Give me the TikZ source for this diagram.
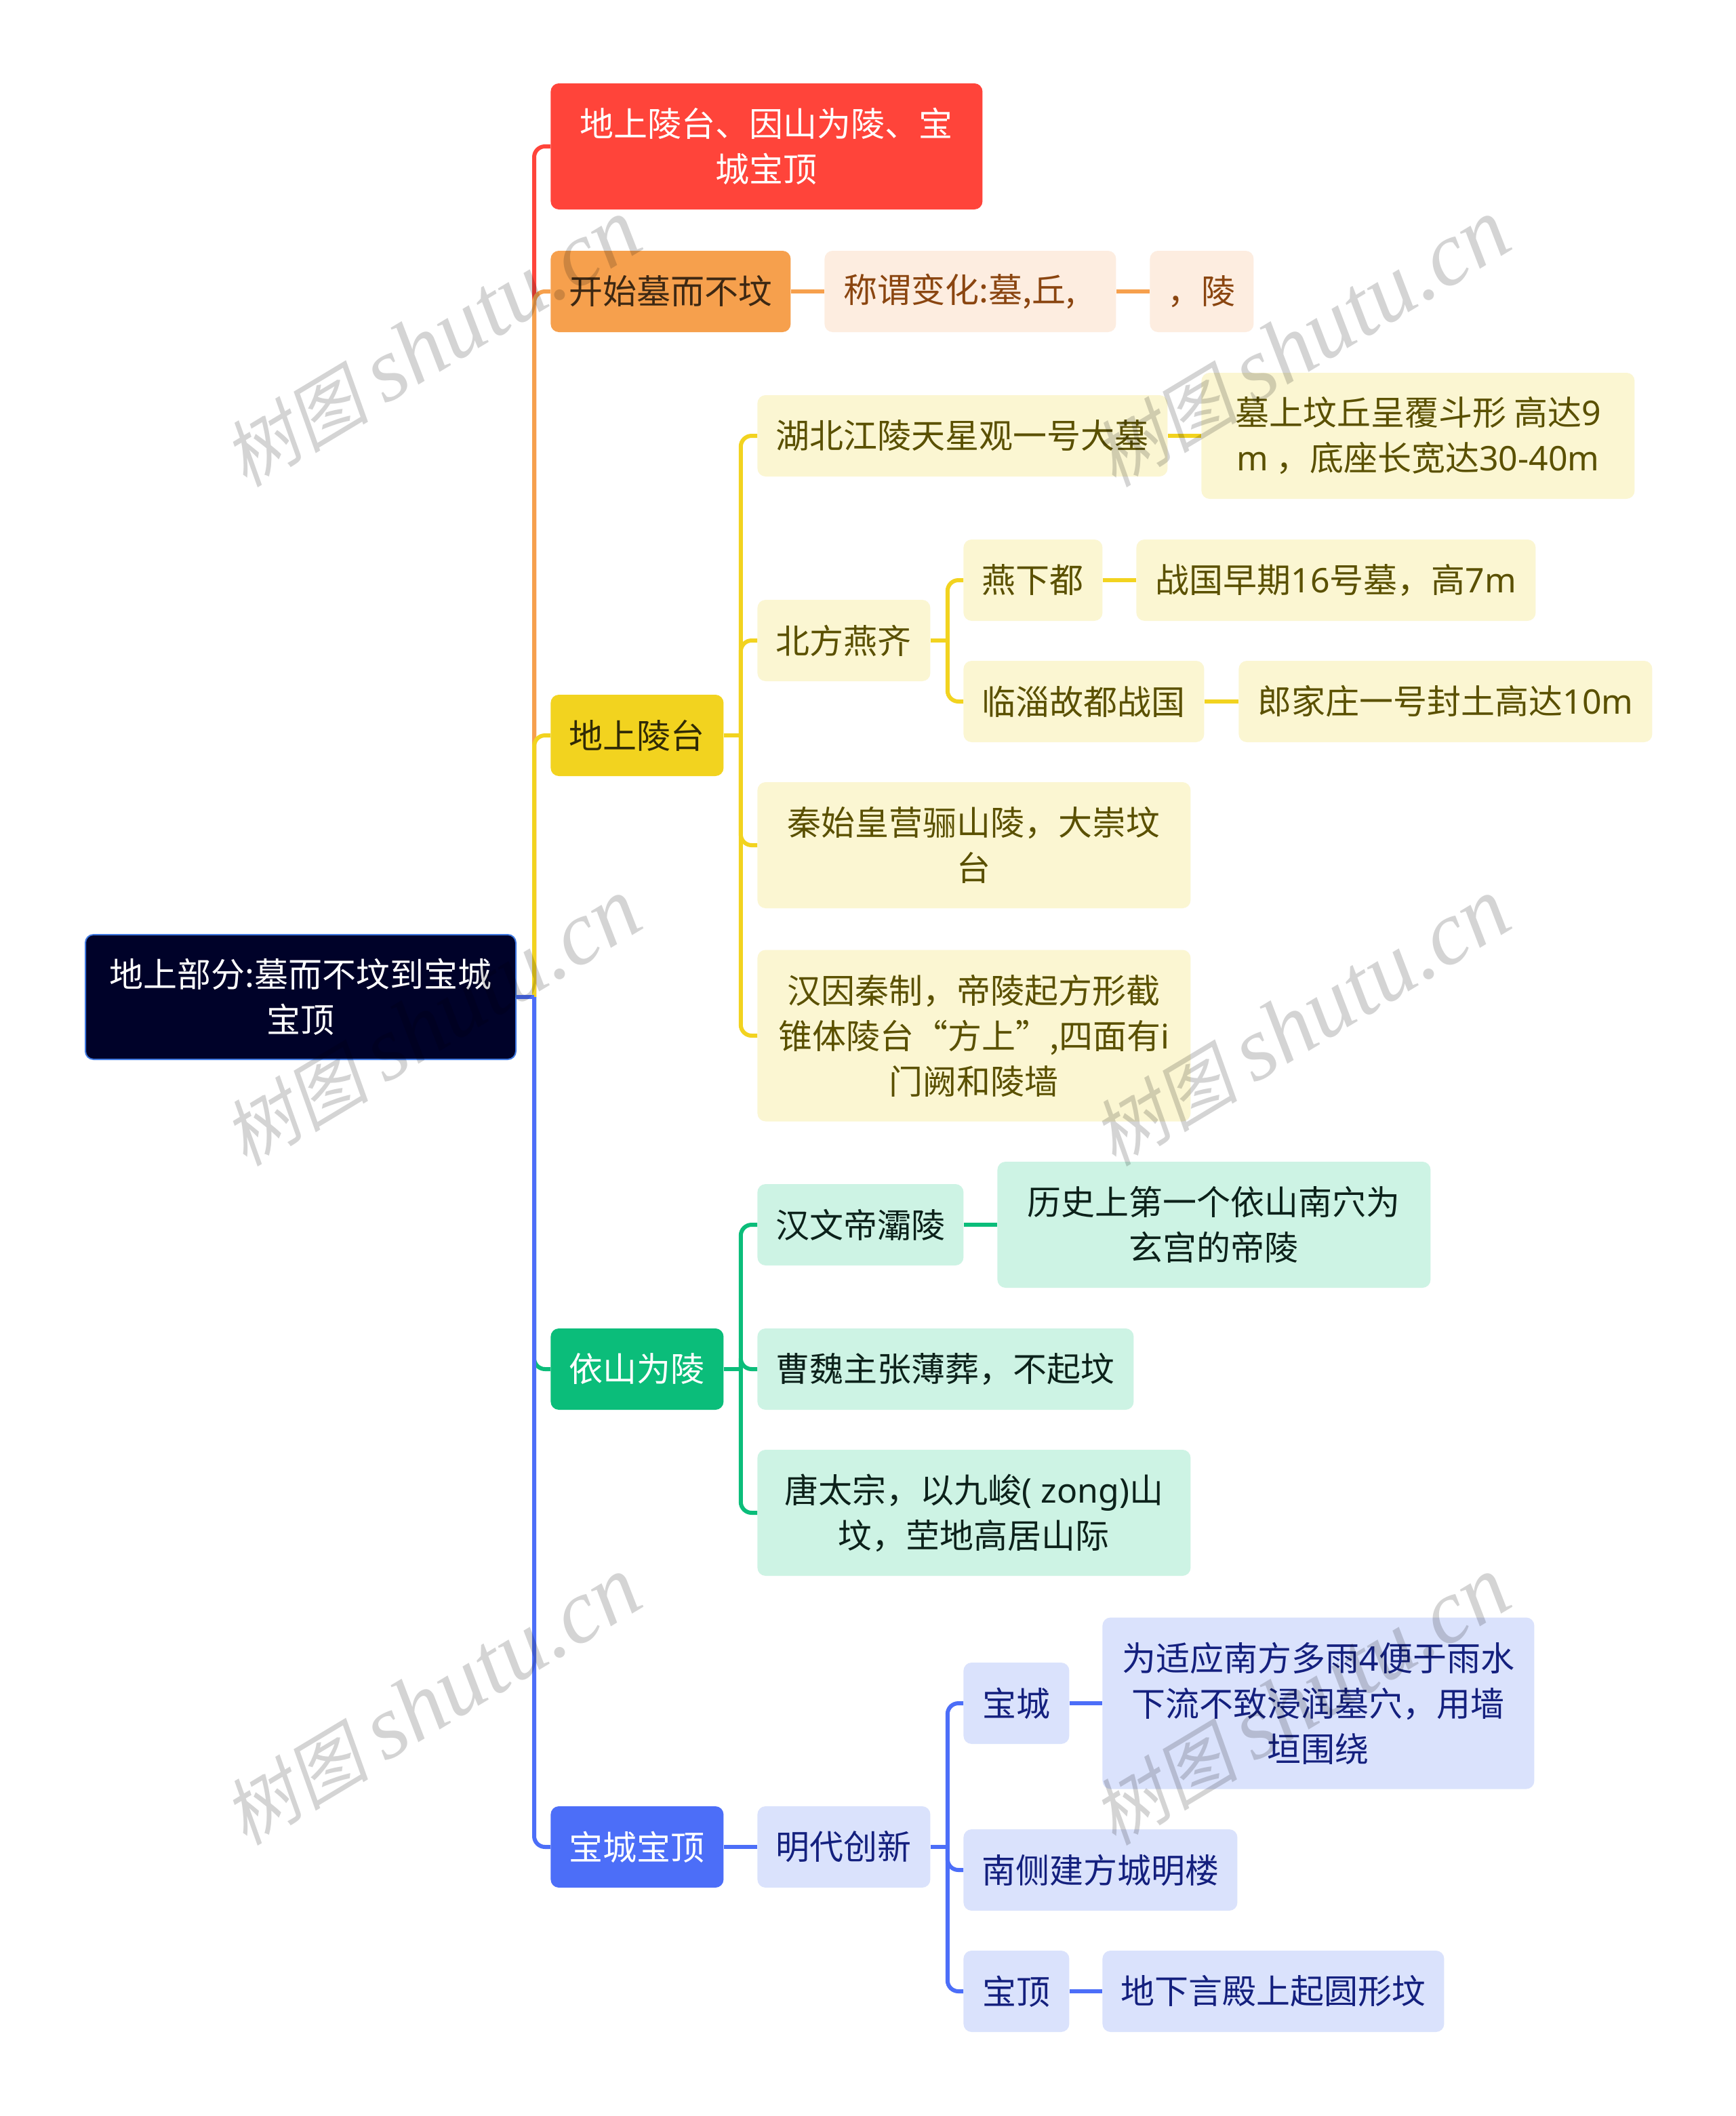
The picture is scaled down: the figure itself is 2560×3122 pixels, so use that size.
\documentclass[tikz,border=0pt]{standalone}
\usepackage{fontspec}
\setmainfont{Noto Sans CJK SC}
\newfontfamily\lat{Noto Sans}
\newfontfamily\wmcjk[FakeSlant=0.2]{Noto Sans CJK SC}
\newfontfamily\wmlatin{Liberation Serif}
\usetikzlibrary{calc}
\definecolor{rootbg}{HTML}{000229}
\definecolor{rootline}{HTML}{3F78E0}
\definecolor{redmain}{HTML}{FF443A}
\definecolor{orangemain}{HTML}{F6A04D}
\definecolor{yellowmain}{HTML}{F2D31F}
\definecolor{greenmain}{HTML}{0BBD7A}
\definecolor{bluemain}{HTML}{4C6EF8}
\definecolor{orangesoft}{HTML}{FDEDE0}
\definecolor{yellowsoft}{HTML}{FBF6D2}
\definecolor{greensoft}{HTML}{CDF3E4}
\definecolor{bluesoft}{HTML}{DAE2FC}
\definecolor{orangeink}{HTML}{8A4510}
\definecolor{yellowink}{HTML}{5A5000}
\definecolor{greenink}{HTML}{0C211A}
\definecolor{blueink}{HTML}{14207E}
\tikzset{
	box/.style={anchor=west,rounded corners=6pt,inner sep=0pt,align=center,
		font=\fontsize{25}{33.5}\selectfont},
	w/.style={minimum width=#1*0.5pt},
	h/.style={minimum height=#1*0.5pt},
	rootbox/.style={box,fill=rootbg,draw=rootline,line width=1pt,text=white},
	redbox/.style={box,fill=redmain,text=white},
	orangebox/.style={box,fill=orangemain,text=black!75!orangemain},
	yellowbox/.style={box,fill=yellowmain,text=black!80!yellowmain},
	greenbox/.style={box,fill=greenmain,text=white},
	bluebox/.style={box,fill=bluemain,text=white},
	orangeleaf/.style={box,fill=orangesoft,text=orangeink},
	yellowleaf/.style={box,fill=yellowsoft,text=yellowink},
	greenleaf/.style={box,fill=greensoft,text=greenink},
	blueleaf/.style={box,fill=bluesoft,text=blueink},
	link/.style={line width=3pt,draw=#1},
	bend/.style={link=#1,rounded corners=8pt},
	mark text/.style={rotate=31,text=black,opacity=0.17}
}
\begin{document}
\begin{tikzpicture}[x=0.5pt,y=-0.5pt]
	\useasboundingbox (0,0) rectangle (2560,3122);
	\fill[white] (0,0) rectangle (2560,3122);

	\node[rootbox,w=635,h=184] (root) at (125,1471) {地上部分:墓而不坟到宝城\\宝顶};

	\node[redbox,w=637,h=186] (red) at (812,216) {地上陵台、因山为陵、宝\\城宝顶};

	\node[orangebox,w=354,h=120] (orange) at (812,430) {开始墓而不坟};
	\node[orangeleaf,w=430,h=120] (name) at (1216,430) {称谓变化:墓,丘,\hspace*{16pt}};
	\node[orangeleaf,w=153,h=120] (ling) at (1696,430) {，陵};

	\node[yellowbox,w=255,h=120] (yellow) at (812,1085) {地上陵台};
	\node[yellowleaf,w=605,h=120] (hubei) at (1117,643) {湖北江陵天星观一号大墓};
	\node[yellowleaf,w=639,h=186] (mound) at (1772,643) {墓上坟丘呈覆斗形 高达{\lat 9}\\{\lat m} ，底座长宽达{\lat 30-40m}};
	\node[yellowleaf,w=255,h=120] (north) at (1117,945) {北方燕齐};
	\node[yellowleaf,w=205,h=120] (yan) at (1421,856) {燕下都};
	\node[yellowleaf,w=589,h=120] (tomb) at (1676,856) {战国早期{\lat 16}号墓，高{\lat 7m}};
	\node[yellowleaf,w=355,h=120] (linzi) at (1421,1035) {临淄故都战国};
	\node[yellowleaf,w=610,h=120] (lang) at (1827,1035) {郎家庄一号封土高达{\lat 10m}};
	\node[yellowleaf,w=639,h=186] (qin) at (1117,1247) {秦始皇营骊山陵，大崇坟\\台};
	\node[yellowleaf,w=639,h=253] (han) at (1117,1528) {汉因秦制，帝陵起方形截\\锥体陵台“方上”,四面有{\lat i}\\门阙和陵墙};

	\node[greenbox,w=255,h=120] (green) at (812,2020) {依山为陵};
	\node[greenleaf,w=304,h=120] (baling) at (1117,1807) {汉文帝灞陵};
	\node[greenleaf,w=639,h=186] (first) at (1471,1807) {历史上第一个依山南穴为\\玄宫的帝陵};
	\node[greenleaf,w=555,h=120] (cao) at (1117,2020) {曹魏主张薄葬，不起坟};
	\node[greenleaf,w=639,h=186] (tang) at (1117,2232) {唐太宗，以九峻{\lat ( zong)}山\\坟，茔地高居山际};

	\node[bluebox,w=255,h=120] (blue) at (812,2725) {宝城宝顶};
	\node[blueleaf,w=255,h=120] (ming) at (1117,2725) {明代创新};
	\node[blueleaf,w=156,h=120] (bao) at (1421,2513) {宝城};
	\node[blueleaf,w=637,h=253] (rain) at (1626,2513) {为适应南方多雨{\lat 4}便于雨水\\下流不致浸润墓穴，用墙\\垣围绕};
	\node[blueleaf,w=404,h=120] (south) at (1421,2759) {南侧建方城明楼};
	\node[blueleaf,w=156,h=120] (ding) at (1421,2938) {宝顶};
	\node[blueleaf,w=504,h=120] (under) at (1626,2938) {地下言殿上起圆形坟};

	% trunk, later colours lie over earlier ones
	\coordinate (trunk) at ($(root.east)+(26,0)$);
	\foreach \c/\col in {red/redmain,orange/orangemain,yellow/yellowmain,green/greenmain,blue/bluemain}{
		\draw[bend=\col] (trunk) |- (\c.west);
		}
	\draw[link=bluemain] (root.east) -- (trunk);

	% second level
	\coordinate (yfork) at ($(yellow.east)+(25,0)$);
	\foreach \c in {hubei,north,qin,han}{
		\draw[bend=yellowmain] (yfork) |- (\c.west);
		}
	\draw[link=yellowmain] (yellow.east) -- (yfork);
	\coordinate (nfork) at ($(north.east)+(25,0)$);
	\foreach \c in {yan,linzi}{
		\draw[bend=yellowmain] (nfork) |- (\c.west);
		}
	\draw[link=yellowmain] (north.east) -- (nfork);
	\coordinate (gfork) at ($(green.east)+(25,0)$);
	\foreach \c in {baling,cao,tang}{
		\draw[bend=greenmain] (gfork) |- (\c.west);
		}
	\draw[link=greenmain] (green.east) -- (gfork);
	\coordinate (mfork) at ($(ming.east)+(25,0)$);
	\foreach \c in {bao,south,ding}{
		\draw[bend=bluemain] (mfork) |- (\c.west);
		}
	\draw[link=bluemain] (ming.east) -- (mfork);

	% straight ones
	\foreach \a/\b/\col in {orange/name/orangemain,name/ling/orangemain,hubei/mound/yellowmain,yan/tomb/yellowmain,linzi/lang/yellowmain,baling/first/greenmain,blue/ming/bluemain,bao/rain/bluemain,ding/under/bluemain}{
		\draw[link=\col] (\a.east) -- (\b.west);
		}

	% marks over everything
	\foreach \i/\x/\y in {1/637/507,2/1919/507,3/637/1509,4/1919/1509,5/637/2510,6/1919/2510}{
		\node[mark text] (mark\i) at (\x,\y) {\fontsize{54}{54}\selectfont\wmcjk 树图 \fontsize{67}{67}\selectfont\wmlatin\itshape shutu.cn};
		}
\end{tikzpicture}
\end{document}
